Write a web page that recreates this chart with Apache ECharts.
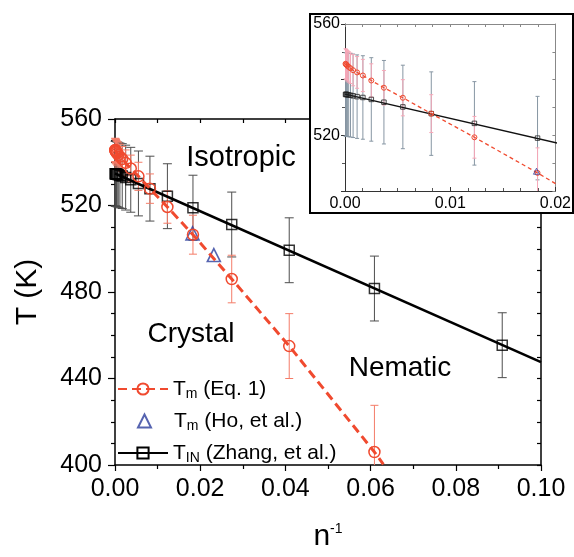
<!DOCTYPE html>
<html lang="en">
<head>
<meta charset="UTF-8">
<title>T vs n^-1</title>
<style>html,body{margin:0;padding:0;background:#fff;}</style>
</head>
<body>
<div id="main" style="width:574px;height:557px;"></div>
<script src="https://cdn.jsdelivr.net/npm/echarts@6/dist/echarts.min.js"></script>
<script>
// chain length, as n^-1
var invN  = [0.00005, 0.0001, 0.00015, 0.00023, 0.00035, 0.00052, 0.00077, 0.00115, 0.0017, 0.0025,
             0.0037, 0.0055, 0.0082, 0.0123, 0.0183, 0.0274, 0.0409, 0.0609, 0.0909];
// T_IN (Zhang, et al.) and its error
var tIN   = [534.7, 534.7, 534.7, 534.6, 534.5, 534.4, 534.2, 533.9, 533.6, 532.9,
             531.9, 530.2, 527.8, 524.3, 519.0, 511.2, 499.3, 481.6, 455.4];
var errIN = [15, 15, 15, 15, 15, 15, 15, 15, 15, 15, 15, 15, 15, 15, 15, 15, 15, 15, 15];
// T_m (Eq. 1) and its error (first 18 values of invN)
var tM    = [545.7, 545.5, 545.3, 545.0, 544.6, 544.1, 543.4, 542.6, 541.5, 539.7,
             537.1, 533.5, 527.8, 519.3, 506.5, 486.0, 455.0, 406.0];
var errM  = [5.4, 5.4, 5.4, 5.5, 5.5, 5.5, 5.6, 5.7, 5.8, 6.0, 6.2, 6.5, 6.8, 7.5, 9, 11, 15, 21.6];
// end of the Eq. 1 curve, where it leaves the frame
var eq1TailX = 0.0630, eq1TailT = 400.3;
// T_m (Ho, et al.)
var hoX = [0.0182, 0.0232];
var hoT = [507.1, 497.1];
// linear fit of T_IN
var fitX = [0, 0.1];
var fitT = [534.8, 447.6];
// axis ticks
var mainX = {min: 0, max: 0.1, step: 0.02};
var mainY = {min: 400, max: 560, step: 40};
var insetX = {min: 0, max: 0.02, step: 0.01};
var insetY = {min: 500, max: 560, step: 20};
var insetYLabels = [520, 560];

var RED = '#f04a2f', BLUE = '#2c3d9c';
var FONT = "'Liberation Sans', Arial, sans-serif";
var NONE = 'rgba(0,0,0,0)';

var myChart = echarts.init(document.getElementById('main'));

function pairs(xs, ys) {
    return ys.map(function (y, i) { return [xs[i], y]; });
}
function errData(xs, ts, es) {
    return ts.map(function (t, i) { return [xs[i], t - es[i], t + es[i]]; });
}
// vertical error bar with caps, cut at the frame
function errRender(capHalf, color, xmax, ymin, ymax) {
    return function (params, api) {
        var x = api.value(0), lo = api.value(1), hi = api.value(2);
        if (x > xmax) return null;
        var p1 = api.coord([x, Math.min(hi, ymax)]);
        var p2 = api.coord([x, Math.max(lo, ymin)]);
        var ch = [{type: 'line', shape: {x1: p1[0], y1: p1[1], x2: p2[0], y2: p2[1]},
                   style: {stroke: color, lineWidth: 1}}];
        if (hi <= ymax) ch.push({type: 'line', shape: {x1: p1[0] - capHalf, y1: p1[1], x2: p1[0] + capHalf, y2: p1[1]},
                                 style: {stroke: color, lineWidth: 1}});
        if (lo >= ymin) ch.push({type: 'line', shape: {x1: p2[0] - capHalf, y1: p2[1], x2: p2[0] + capHalf, y2: p2[1]},
                                 style: {stroke: color, lineWidth: 1}});
        return {type: 'group', children: ch};
    };
}

var eq1Data = pairs(invN, tM);
eq1Data.push({value: [eq1TailX, eq1TailT], symbol: 'none'});

var legendText = {
    eq1: '{t|T}{s|m}{t| (Eq. 1)}',
    ho: '{tp|T}{s|m}{t| (Ho, et al.)}',
    zhang: '{t|T}{s|IN}{t| (Zhang, et al.)}'
};
function legendAt(name, left, top, w, h) {
    return {
        data: [name], left: left, top: top, padding: 0, itemWidth: w, itemHeight: h,
        selectedMode: false, symbolKeepAspect: true,
        formatter: function (n) { return legendText[n]; },
        textStyle: {
            color: '#000', fontFamily: FONT, fontSize: 21,
            rich: {
                t: {fontSize: 21, lineHeight: 24, fontFamily: FONT, color: '#000'},
                tp: {fontSize: 21, lineHeight: 24, padding: [0, 0, 0, 18], fontFamily: FONT, color: '#000'},
                s: {fontSize: 14, lineHeight: 14, padding: [10, 0, 0, 0], fontFamily: FONT, color: '#000'}
            }
        }
    };
}

var tickFont = {color: '#000', fontFamily: FONT};

var option = {
    animation: false,
    backgroundColor: '#fff',
    grid: [
        {left: 115, right: 33, top: 119, bottom: 83},
        {left: 345, right: 17, top: 24, bottom: 366}
    ],
    legend: [
        legendAt('eq1', 117, 377, 50, 14),
        legendAt('ho', 137, 409, 13, 13),
        legendAt('zhang', 117, 441, 50, 14)
    ],
    xAxis: [
        {   // main bottom
            type: 'value', gridIndex: 0, min: mainX.min, max: mainX.max, interval: mainX.step,
            name: '{n|n}{s|-1}', nameLocation: 'middle', nameGap: 57,
            nameTextStyle: {rich: {
                n: {fontSize: 30, lineHeight: 30, fontFamily: FONT, color: '#000'},
                s: {fontSize: 14, lineHeight: 14, padding: [0, 0, 16, 0], fontFamily: FONT, color: '#000'}
            }},
            axisLine: {onZero: false, lineStyle: {color: '#000', width: 1.5}},
            axisTick: {inside: false, length: 6, lineStyle: {color: '#000', width: 1.2}},
            minorTick: {show: true, splitNumber: 2, length: 4, lineStyle: {color: '#000', width: 1.2}},
            axisLabel: Object.assign({fontSize: 25, margin: 12, formatter: function (v) { return v.toFixed(2); }}, tickFont),
            splitLine: {show: false}
        },
        {   // main top
            type: 'value', gridIndex: 0, position: 'top', min: mainX.min, max: mainX.max, interval: mainX.step / 2,
            axisLine: {onZero: false, lineStyle: {color: '#000', width: 1.5}},
            axisTick: {inside: true, length: 4, lineStyle: {color: '#000', width: 1.2}},
            axisLabel: {show: false}, splitLine: {show: false}
        },
        {   // inset bottom
            type: 'value', gridIndex: 1, min: insetX.min, max: insetX.max, interval: insetX.step, z: 10,
            axisLine: {onZero: false, lineStyle: {color: '#333', width: 1}},
            axisTick: {inside: true, length: 4, lineStyle: {color: '#333'}},
            minorTick: {show: true, splitNumber: 6, length: 3, lineStyle: {color: '#555'}},
            axisLabel: Object.assign({fontSize: 16, margin: 5, formatter: function (v) { return v.toFixed(2); }}, tickFont),
            splitLine: {show: false}
        },
        {   // inset top
            type: 'value', gridIndex: 1, position: 'top', min: insetX.min, max: insetX.max, interval: insetX.step, z: 10,
            axisLine: {onZero: false, lineStyle: {color: '#888', width: 1}},
            axisTick: {inside: true, length: 3, lineStyle: {color: '#888'}},
            minorTick: {show: true, splitNumber: 6, length: 3, lineStyle: {color: '#888'}},
            axisLabel: {show: false}, splitLine: {show: false}
        }
    ],
    yAxis: [
        {   // main left
            type: 'value', gridIndex: 0, min: mainY.min, max: mainY.max, interval: mainY.step,
            name: 'T (K)', nameLocation: 'middle', nameGap: 72,
            nameTextStyle: {fontSize: 30, fontFamily: FONT, color: '#000'},
            axisLine: {onZero: false, lineStyle: {color: '#000', width: 1.5}},
            axisTick: {inside: false, length: 7, lineStyle: {color: '#000', width: 1.2}},
            minorTick: {show: true, splitNumber: 4, length: 4, lineStyle: {color: '#000', width: 1.2}},
            axisLabel: Object.assign({fontSize: 25, margin: 13}, tickFont),
            splitLine: {show: false}
        },
        {   // main right
            type: 'value', gridIndex: 0, position: 'right', min: mainY.min, max: mainY.max, interval: 10,
            axisLine: {onZero: false, lineStyle: {color: '#000', width: 1.5}},
            axisTick: {inside: true, length: 4, lineStyle: {color: '#000', width: 1.2}},
            axisLabel: {show: false}, splitLine: {show: false}
        },
        {   // inset left
            type: 'value', gridIndex: 1, min: insetY.min, max: insetY.max, interval: insetY.step, z: 10,
            axisLine: {onZero: false, lineStyle: {color: '#333', width: 1}},
            axisTick: {inside: false, length: 4, lineStyle: {color: '#333'}},
            minorTick: {show: true, splitNumber: 2, length: 3, lineStyle: {color: '#555'}},
            axisLabel: Object.assign({fontSize: 16, margin: 5, formatter: function (v) {
                return insetYLabels.indexOf(v) >= 0 ? String(v) : '';
            }}, tickFont),
            splitLine: {show: false}
        },
        {   // inset right
            type: 'value', gridIndex: 1, position: 'right', min: insetY.min, max: insetY.max, interval: 10, z: 10,
            axisLine: {onZero: false, lineStyle: {color: '#888', width: 1}},
            axisTick: {inside: true, length: 3, lineStyle: {color: '#888'}},
            axisLabel: {show: false}, splitLine: {show: false}
        }
    ],
    graphic: {
        elements: [
            {type: 'rect', z: 5, shape: {x: 310, y: 14, width: 263, height: 199},
             style: {fill: '#fff', stroke: '#000', lineWidth: 2}},
            {type: 'text', z: 6, style: {text: 'Isotropic', x: 241, y: 158, fontSize: 29, fontFamily: FONT,
             fill: '#000', align: 'center', verticalAlign: 'middle'}},
            {type: 'text', z: 6, style: {text: 'Crystal', x: 191, y: 334, fontSize: 28, fontFamily: FONT,
             fill: '#000', align: 'center', verticalAlign: 'middle'}},
            {type: 'text', z: 6, style: {text: 'Nematic', x: 400, y: 368, fontSize: 28, fontFamily: FONT,
             fill: '#000', align: 'center', verticalAlign: 'middle'}}
        ]
    },
    series: [
        // ---- main plot ----
        {type: 'custom', name: 'errIN', xAxisIndex: 0, yAxisIndex: 0, encode: {x: 0, y: [1, 2]},
         renderItem: errRender(4.5, '#4d4d4d', mainX.max, mainY.min, mainY.max),
         data: errData(invN, tIN, errIN)},
        {type: 'custom', name: 'errM', xAxisIndex: 0, yAxisIndex: 0, encode: {x: 0, y: [1, 2]},
         renderItem: errRender(4, '#f47c68', mainX.max, mainY.min, mainY.max),
         data: errData(invN, tM, errM)},
        {type: 'line', name: 'zhang', xAxisIndex: 0, yAxisIndex: 0, data: pairs(fitX, fitT),
         symbol: 'rect', symbolSize: 10, showSymbol: false,
         itemStyle: {color: NONE, borderColor: '#000', borderWidth: 1.5},
         lineStyle: {color: '#000', width: 2.5}},
        {type: 'scatter', name: 'zhangPts', xAxisIndex: 0, yAxisIndex: 0, data: pairs(invN, tIN),
         symbol: 'rect', symbolSize: 10,
         itemStyle: {color: NONE, borderColor: '#000', borderWidth: 1.5}},
        {type: 'line', name: 'eq1', xAxisIndex: 0, yAxisIndex: 0, data: eq1Data,
         symbol: 'circle', symbolSize: 11,
         itemStyle: {color: NONE, borderColor: RED, borderWidth: 1.5},
         lineStyle: {color: RED, width: 3, type: [9, 5]}},
        {type: 'scatter', name: 'ho', xAxisIndex: 0, yAxisIndex: 0, data: pairs(hoX, hoT),
         symbol: 'triangle', symbolSize: 13,
         itemStyle: {color: NONE, borderColor: BLUE, borderWidth: 1.6}},
        // ---- inset ----
        {type: 'custom', name: 'errINi', xAxisIndex: 2, yAxisIndex: 2, z: 11, encode: {x: 0, y: [1, 2]},
         renderItem: errRender(2, '#8796a3', insetX.max, insetY.min, insetY.max),
         data: errData(invN, tIN, errIN)},
        {type: 'custom', name: 'errMi', xAxisIndex: 2, yAxisIndex: 2, z: 11, encode: {x: 0, y: [1, 2]},
         renderItem: errRender(2, '#f7a8b8', insetX.max, insetY.min, insetY.max),
         data: errData(invN, tM, errM)},
        {type: 'line', name: 'zhangFitI', xAxisIndex: 2, yAxisIndex: 2, z: 12, data: pairs(fitX, fitT),
         showSymbol: false, lineStyle: {color: '#111', width: 1.5}},
        {type: 'scatter', name: 'zhangI', xAxisIndex: 2, yAxisIndex: 2, z: 12, data: pairs(invN, tIN),
         symbol: 'rect', symbolSize: 4.5,
         itemStyle: {color: NONE, borderColor: '#222', borderWidth: 1}},
        {type: 'line', name: 'eq1I', xAxisIndex: 2, yAxisIndex: 2, z: 12, data: eq1Data,
         symbol: 'circle', symbolSize: 5,
         itemStyle: {color: NONE, borderColor: RED, borderWidth: 1},
         lineStyle: {color: RED, width: 1.3, type: [4, 3]}},
        {type: 'scatter', name: 'hoI', xAxisIndex: 2, yAxisIndex: 2, z: 12, data: pairs(hoX, hoT),
         symbol: 'triangle', symbolSize: 6,
         itemStyle: {color: NONE, borderColor: BLUE, borderWidth: 1}}
    ]
};

myChart.setOption(option);
</script>
</body>
</html>
